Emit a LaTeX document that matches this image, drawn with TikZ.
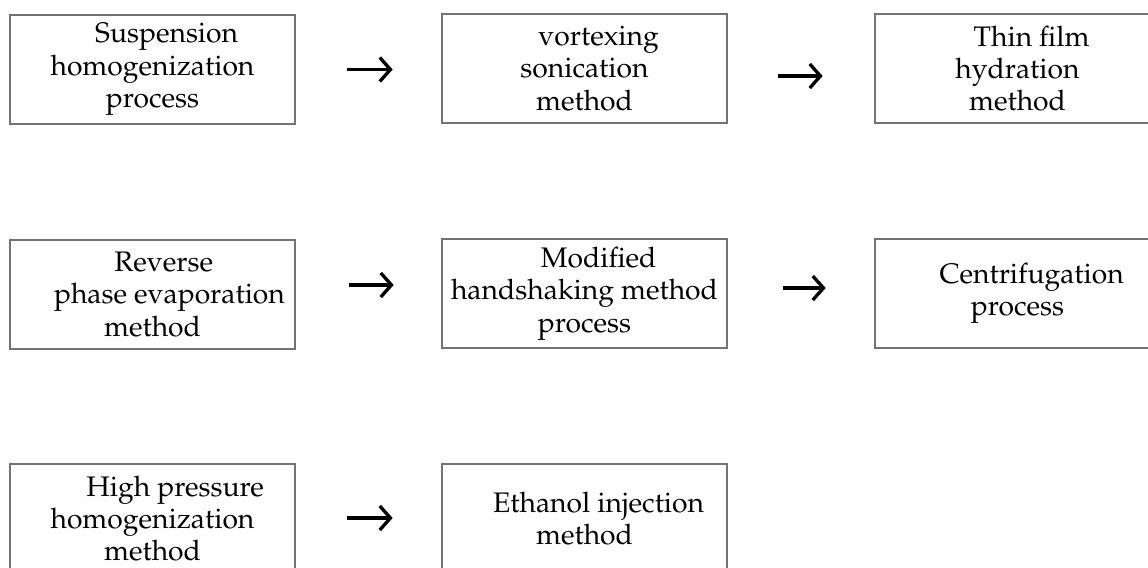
\documentclass[tikz,border=0pt]{standalone}
\usepackage[T1]{fontenc}
\usepackage{mathpazo}
\usetikzlibrary{arrows.meta,calc}

\tikzset{
  stage/.style={draw=black!55, line width=1pt, inner sep=0pt,
    minimum width=213.75pt, minimum height=81.75pt, align=center,
    font=\fontsize{21.2}{24.3}\selectfont},
  flow/.style={line width=2.5pt, -{Straight Barb[length=8pt,width=18pt]}}
}
\newcommand{\ind}[1][1em]{\hspace*{#1}}

\begin{document}
\begin{tikzpicture}[x=0.75pt,y=-0.75pt]
\useasboundingbox (0,0) rectangle (1148,567);

% first row
\node[stage] (s1) at (152.5,69.5) {\ind Suspension\\homogenization\\process};
\node[stage] (s2) at (584.5,68.5) {\ind vortexing\\sonication\\method};
\node[stage] (s3) at (1017.5,68.5) {\ind Thin film\\hydration\\method};

% second row
\node[stage] (r1) at (152.5,294.5) {\ind[0.8em]Reverse\\\ind[1.2em]phase evaporation\\method};
\node[stage] (r2) at (584.5,293.5) {\ind Modified\\handshaking method\\process};
\node[stage] (r3) at (1017.5,293.5) {\ind Centrifugation\\process};

% third row
\node[stage] (h1) at (152.5,518.5) {\ind[1.6em]High pressure\\homogenization\\method};
\node[stage] (h2) at (584.5,518.5) {\ind Ethanol injection\\method};

\draw[flow] ($(s1.east)+(51,0)$) -- ++(46,0);
\draw[flow] ($(s2.east)+(50,7.5)$) -- ++(45,0);
\draw[flow] ($(r1.east)+(53,-9.5)$) -- ++(45,0);
\draw[flow] ($(r2.east)+(55,-5.5)$) -- ++(43,0);
\draw[flow] ($(h1.east)+(51,-0.5)$) -- ++(46,0);
\end{tikzpicture}
\end{document}
